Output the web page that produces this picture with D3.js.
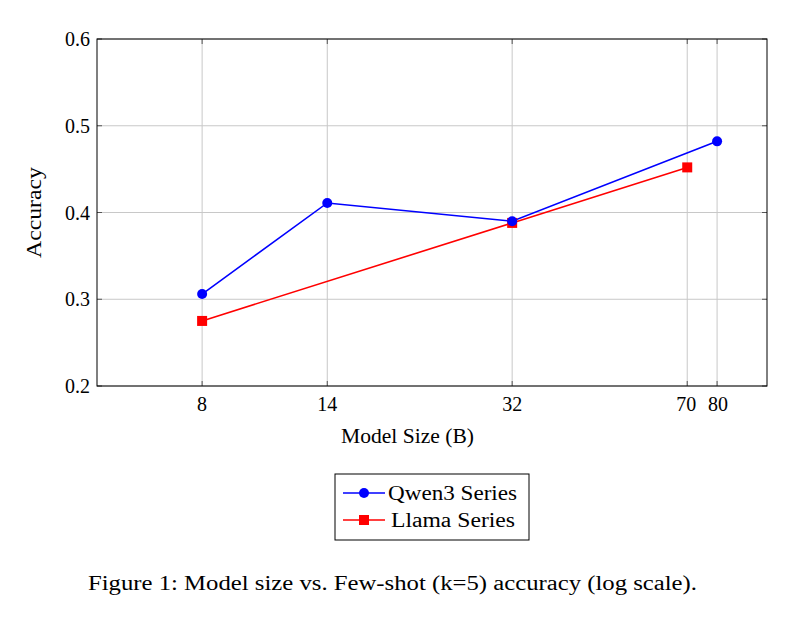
<!DOCTYPE html>
<html>
<head>
<meta charset="utf-8">
<script src="https://cdn.jsdelivr.net/npm/d3@7"></script>
<style>
  body { margin: 0; background: white; }
  text { font-family: "Liberation Serif", "DejaVu Serif", serif; fill: black; }
</style>
</head>
<body>
<div id="chart"></div>
<script>
// dati
const xTicks = [8, 14, 32, 70, 80];
const yTicks = [0.2, 0.3, 0.4, 0.5, 0.6];
const qwenSizes = [8, 14, 32, 80];
const qwenAcc = [0.306, 0.411, 0.390, 0.482];
const llamaSizes = [8, 32, 70];
const llamaAcc = [0.275, 0.388, 0.452];
const seriesNames = ["Qwen3 Series", "Llama Series"];

const width = 800, height = 619;
const pLeft = 97, pRight = 767, pTop = 39, pBottom = 386;

const svg = d3.select("#chart").append("svg")
    .attr("width", width)
    .attr("height", height);

const x = d3.scaleLog().domain([5, 100]).range([pLeft, pRight]);
const y = d3.scaleLinear().domain([0.2, 0.6]).range([pBottom, pTop]);

// griglia
svg.append("g").selectAll("line")
    .data(xTicks)
    .enter().append("line")
    .attr("x1", d => x(d)).attr("x2", d => x(d))
    .attr("y1", pTop).attr("y2", pBottom)
    .attr("stroke", "#c8c8c8").attr("stroke-width", 1);

svg.append("g").selectAll("line")
    .data(yTicks)
    .enter().append("line")
    .attr("x1", pLeft).attr("x2", pRight)
    .attr("y1", d => y(d)).attr("y2", d => y(d))
    .attr("stroke", "#c8c8c8").attr("stroke-width", 1);

// tacche interne su tutti i lati
const tick = 5;
xTicks.forEach(t => {
    svg.append("line").attr("x1", x(t)).attr("x2", x(t)).attr("y1", pBottom).attr("y2", pBottom - tick)
        .attr("stroke", "#555").attr("stroke-width", 1);
    svg.append("line").attr("x1", x(t)).attr("x2", x(t)).attr("y1", pTop).attr("y2", pTop + tick)
        .attr("stroke", "#555").attr("stroke-width", 1);
});
yTicks.forEach(t => {
    svg.append("line").attr("x1", pLeft).attr("x2", pLeft + tick).attr("y1", y(t)).attr("y2", y(t))
        .attr("stroke", "#555").attr("stroke-width", 1);
    svg.append("line").attr("x1", pRight).attr("x2", pRight - tick).attr("y1", y(t)).attr("y2", y(t))
        .attr("stroke", "#555").attr("stroke-width", 1);
});

// bordo
svg.append("rect")
    .attr("x", pLeft).attr("y", pTop)
    .attr("width", pRight - pLeft).attr("height", pBottom - pTop)
    .attr("fill", "none").attr("stroke", "black").attr("stroke-width", 1);

// etichette assi
svg.append("g").selectAll("text")
    .data(xTicks)
    .enter().append("text")
    .attr("x", d => x(d) + (d === 70 ? -1 : d === 80 ? 1 : 0))
    .attr("y", pBottom + 25)
    .attr("text-anchor", "middle")
    .attr("font-size", "20px")
    .text(d => d);

svg.append("g").selectAll("text")
    .data(yTicks)
    .enter().append("text")
    .attr("x", pLeft - 7)
    .attr("y", d => y(d) + 7)
    .attr("text-anchor", "end")
    .attr("font-size", "20px")
    .text(d => d.toFixed(1));

svg.append("text")
    .attr("x", 341)
    .attr("y", 443)
    .attr("font-size", "20px")
    .attr("textLength", 133)
    .attr("lengthAdjust", "spacingAndGlyphs")
    .text("Model Size (B)");

svg.append("text")
    .attr("transform", "translate(41, 258) rotate(-90)")
    .attr("font-size", "20px")
    .attr("textLength", 91)
    .attr("lengthAdjust", "spacingAndGlyphs")
    .text("Accuracy");

// serie
const line = d3.line().x(d => x(d[0])).y(d => y(d[1]));
const qwen = qwenSizes.map((s, i) => [s, qwenAcc[i]]);
const llama = llamaSizes.map((s, i) => [s, llamaAcc[i]]);

svg.append("path").datum(llama).attr("d", line)
    .attr("fill", "none").attr("stroke", "red").attr("stroke-width", 1.6);
svg.append("path").datum(qwen).attr("d", line)
    .attr("fill", "none").attr("stroke", "blue").attr("stroke-width", 1.6);

svg.append("g").selectAll("rect")
    .data(llama)
    .enter().append("rect")
    .attr("x", d => x(d[0]) - 5).attr("y", d => y(d[1]) - 5)
    .attr("width", 10).attr("height", 10)
    .attr("fill", "red");

svg.append("g").selectAll("circle")
    .data(qwen)
    .enter().append("circle")
    .attr("cx", d => x(d[0])).attr("cy", d => y(d[1]))
    .attr("r", 5)
    .attr("fill", "blue");

// legenda
const lg = svg.append("g").attr("transform", "translate(335, 474)");
lg.append("rect").attr("width", 194).attr("height", 66)
    .attr("fill", "white").attr("stroke", "black").attr("stroke-width", 1);
const legColors = ["blue", "red"];
const legX = [53, 56], legW = [129, 124];
seriesNames.forEach((name, i) => {
    const yy = 19 + i * 27;
    lg.append("line").attr("x1", 8).attr("x2", 50).attr("y1", yy).attr("y2", yy)
        .attr("stroke", legColors[i]).attr("stroke-width", 1.6);
    if (i === 0) {
        lg.append("circle").attr("cx", 29).attr("cy", yy).attr("r", 5).attr("fill", "blue");
    } else {
        lg.append("rect").attr("x", 24).attr("y", yy - 5).attr("width", 10).attr("height", 10).attr("fill", "red");
    }
    lg.append("text").attr("x", legX[i]).attr("y", yy + 7)
        .attr("font-size", "20px")
        .attr("textLength", legW[i])
        .attr("lengthAdjust", "spacingAndGlyphs")
        .text(name);
});

// didascalia
svg.append("text")
    .attr("x", 88)
    .attr("y", 590)
    .attr("font-size", "20px")
    .attr("textLength", 609)
    .attr("lengthAdjust", "spacingAndGlyphs")
    .text("Figure 1: Model size vs. Few-shot (k=5) accuracy (log scale).");
</script>
</body>
</html>
